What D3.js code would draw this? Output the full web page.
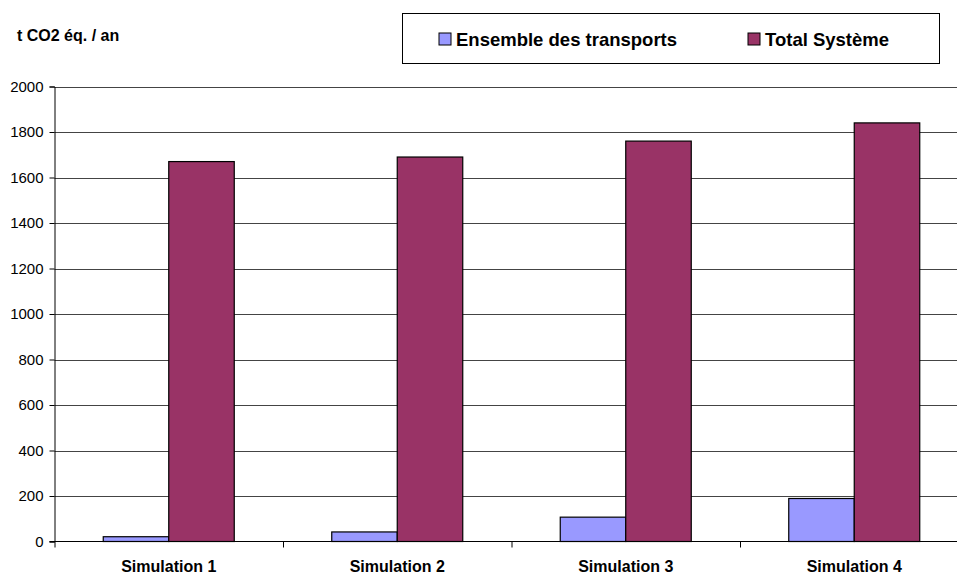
<!DOCTYPE html>
<html lang="fr">
<head>
<meta charset="utf-8" />
<title>t CO2 éq. / an</title>
<style>
  html,body{margin:0;background:#fff;}
  svg{display:block;font-family:"Liberation Sans",Arial,sans-serif;}
</style>
</head>
<body>
<svg id="chart" width="957" height="574"></svg>
<script src="https://d3js.org/d3.v7.min.js"></script>
<script>
// ---- data ----
const categories = ['Simulation 1','Simulation 2','Simulation 3','Simulation 4'];
const seriesNames = ['Ensemble des transports','Total Système'];
const transports = [21, 42, 107, 189];
const totalSysteme = [1670, 1690, 1760, 1840];
const yTicks = [0,200,400,600,800,1000,1200,1400,1600,1800,2000];
const colours = ['#9999ff','#993366'];

const svg = d3.select('#chart');
const m = {left:54.5, top:86.5, bottom:541.5};
const catW = 228.5;
const plotRight = m.left + catW*categories.length;

const x = d3.scaleBand().domain(categories).range([m.left, plotRight]).paddingInner(0).paddingOuter(0);
const xs = d3.scaleBand().domain(seriesNames).range([0, catW]).paddingInner(0).paddingOuter((catW-131)/2/65.5);
const y = d3.scaleLinear().domain([0,2000]).range([m.bottom, m.top]);

// gridlines
svg.append('g').selectAll('line').data(yTicks.filter(d=>d>0)).join('line')
  .attr('x1', m.left).attr('x2', 957)
  .attr('y1', d=>Math.round(y(d))+0.5).attr('y2', d=>Math.round(y(d))+0.5)
  .attr('stroke','#444').attr('stroke-width',1);

// bars
const rows = categories.map((c,i)=>({cat:c, vals:[transports[i], totalSysteme[i]]}));
const grp = svg.append('g').selectAll('g').data(rows).join('g')
  .attr('transform', d=>`translate(${x(d.cat)},0)`);
grp.selectAll('rect').data(d=>d.vals.map((v,j)=>({name:seriesNames[j], v, j}))).join('rect')
  .attr('x', d=>xs(d.name)).attr('width', xs.bandwidth())
  .attr('y', d=>y(d.v)).attr('height', d=>y(0)-y(d.v))
  .attr('fill', d=>colours[d.j]).attr('stroke','#000').attr('stroke-width',1.2);

// y axis
const yAxis = d3.axisLeft(y).tickValues(yTicks).tickSize(5).tickPadding(6).tickFormat(d3.format('d'));
const ya = svg.append('g').attr('transform',`translate(${m.left},0)`).call(yAxis);
ya.select('.domain').attr('stroke','#000');
ya.selectAll('line').attr('stroke','#000');
ya.selectAll('text').attr('font-size',15).attr('fill','#000').attr('font-family','"Liberation Sans",Arial,sans-serif');

// x axis (baseline + separator ticks)
svg.append('line').attr('x1',m.left-5).attr('x2',957).attr('y1',m.bottom).attr('y2',m.bottom)
  .attr('stroke','#000');
svg.append('g').selectAll('line').data(categories).join('line')
  .attr('x1', d=>x(d)+0.5).attr('x2', d=>x(d)+0.5)
  .attr('y1', m.bottom).attr('y2', m.bottom+6).attr('stroke','#000');
svg.append('g').selectAll('text').data(categories).join('text')
  .attr('x', d=>x(d)+catW/2).attr('y', 572)
  .attr('text-anchor','middle').attr('font-size',16).attr('font-weight','bold')
  .text(d=>d);

// unit label
svg.append('text').attr('x',17).attr('y',41).attr('font-size',16).attr('font-weight','bold').text('t CO2 éq. / an');

// legend
svg.append('rect').attr('x',402.5).attr('y',13.5).attr('width',537).attr('height',50)
  .attr('fill','#fff').attr('stroke','#000').attr('stroke-width',1);
const legX = [439, 748];
const lg = svg.append('g').selectAll('g').data(seriesNames).join('g')
  .attr('transform',(d,i)=>`translate(${legX[i]},33)`);
lg.append('rect').attr('width',12).attr('height',12).attr('fill',(d,i)=>colours[i]).attr('stroke','#000');
lg.append('text').attr('x',17).attr('y',13).attr('font-size',18.5).attr('font-weight','bold').text(d=>d);
</script>
</body>
</html>
